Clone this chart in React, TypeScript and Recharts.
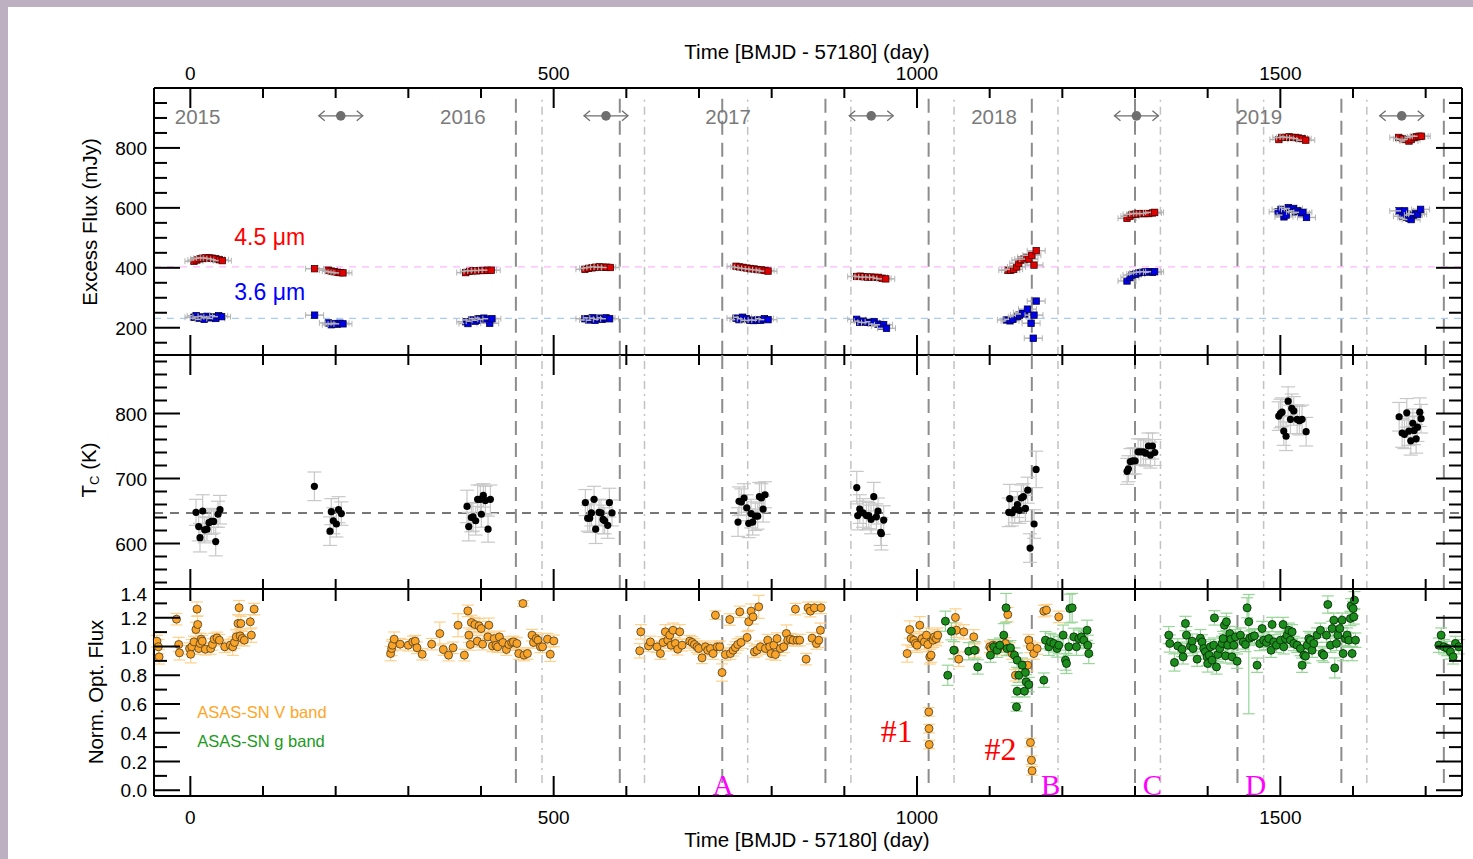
import React from 'react'
import { ScatterChart, Scatter, XAxis, YAxis, ReferenceLine, ErrorBar } from 'recharts'

// ---------- data ----------
const dayTicks = [0, 100, 200, 300, 400, 500, 600, 700, 800, 900, 1000, 1100, 1200, 1300, 1400, 1500, 1600, 1700]
const irTicks = [150, 200, 250, 300, 350, 400, 450, 500, 550, 600, 650, 700, 750, 800, 850, 900, 950]
const tempTicks = [540, 560, 580, 600, 620, 640, 660, 680, 700, 720, 740, 760, 780, 800, 820, 840, 860, 880]
const optTicks = [0, 0.1, 0.2, 0.3, 0.4, 0.5, 0.6, 0.7, 0.8, 0.9, 1.0, 1.1, 1.2, 1.3, 1.4]

const yearLabels = ['2015', '2016', '2017', '2018', '2019']
const yearDays = [10, 375, 740, 1106, 1471]
const arrowDays = [207, 572, 937, 1302, 1667]
const dashedDays = [448, 591, 732, 874, 1016, 1158, 1300, 1441, 1584, 1725]
const dotDashDays = [484, 625, 767, 909, 1051, 1194, 1335, 1477, 1619]
const epochLetters = ['A', 'B', 'C', 'D']
const epochDays = [733, 1184, 1324, 1466]
const dipLabels = ['#1', '#2']
const dipDays = [972, 1115]
const dipFlux = [0.336, 0.21]

// excess flux, mJy
const flux45Ref = 403
const flux36Ref = 231
const flux45: [number, number][] = [
  [5, 422], [9, 426], [13, 430], [17, 432], [21, 433], [26, 433], [30, 432], [35, 430], [40, 427], [44, 424],
  [171, 397],
  [190, 392], [194, 389], [198, 387], [202, 385], [206, 384], [210, 383],
  [379, 384], [384, 388], [389, 390], [394, 390], [399, 391], [404, 391], [409, 392], [414, 392],
  [543, 395], [548, 398], [553, 400], [558, 402], [563, 403], [568, 402], [573, 402], [578, 401],
  [751, 405], [756, 403], [761, 401], [766, 399], [771, 397], [776, 396], [781, 394], [786, 393], [791, 391], [795, 389],
  [917, 371], [922, 372], [927, 370], [932, 369], [937, 369], [942, 368], [947, 368], [952, 365], [957, 363],
  [1125, 392], [1129, 392], [1133, 395], [1137, 403], [1140, 415], [1143, 426], [1147, 429], [1151, 435], [1154, 429], [1158, 442], [1161, 409], [1164, 457],
  [1289, 565], [1293, 572], [1296, 578], [1301, 579], [1305, 581], [1310, 581], [1314, 581], [1319, 581], [1324, 583], [1327, 585],
  [1498, 828], [1502, 835], [1507, 835], [1512, 837], [1516, 835], [1521, 835], [1525, 833], [1530, 831], [1535, 826],
  [1663, 835], [1668, 831], [1672, 828], [1677, 823], [1680, 828], [1684, 835], [1687, 837], [1691, 839], [1694, 839],
]
const flux36: [number, number][] = [
  [5, 235], [8, 240], [12, 232], [16, 236], [19, 228], [23, 238], [27, 233], [31, 236], [35, 231], [39, 240], [43, 237],
  [171, 242],
  [190, 216], [194, 210], [198, 214], [202, 212], [206, 215], [210, 213],
  [379, 220], [382, 214], [387, 226], [392, 222], [396, 230], [400, 225], [404, 232], [408, 228], [412, 215], [415, 230],
  [543, 230], [548, 226], [553, 233], [557, 225], [562, 232], [567, 228], [572, 233], [577, 230],
  [751, 232], [755, 227], [760, 235], [765, 230], [770, 225], [775, 224], [780, 226], [785, 225], [790, 230], [795, 227],
  [917, 228], [921, 218], [926, 222], [931, 218], [936, 217], [941, 220], [946, 212], [950, 206], [954, 210], [958, 198],
  [1123, 226], [1128, 223], [1132, 228], [1138, 237], [1141, 242], [1145, 250], [1148, 246], [1152, 262], [1157, 215], [1161, 242], [1164, 289], [1160, 165],
  [1289, 356], [1293, 368], [1296, 376], [1301, 379], [1305, 383], [1310, 385], [1314, 386], [1319, 387], [1324, 385], [1327, 387],
  [1497, 587], [1501, 595], [1505, 570], [1508, 576], [1511, 601], [1514, 595], [1518, 598], [1521, 587], [1524, 590], [1528, 583], [1531, 585], [1536, 568],
  [1663, 590], [1668, 572], [1671, 590], [1674, 568], [1677, 565], [1680, 561], [1683, 576], [1686, 581], [1689, 579], [1693, 595],
]

// colour temperature, K  [day, T, err]
const tempRef = 647
const tempDust: [number, number, number][] = [
  [7.8, 648, 20], [11.5, 626, 22], [13.3, 609, 22], [17, 650, 25], [19.7, 621, 20], [22.9, 622, 18], [25.7, 632, 18], [28.9, 634, 20], [32.1, 634, 18], [34.9, 603, 22], [38.1, 645, 20], [40.8, 652, 22],
  [170.7, 688, 22],
  [192.2, 619, 22], [194, 649, 20], [196.8, 635, 20], [201, 630, 20], [204, 652, 20], [207.8, 646, 18],
  [380.8, 657, 25], [383.1, 626, 22], [386.7, 640, 22], [389, 641, 22], [392.7, 635, 22], [395.4, 668, 22], [399.1, 668, 22], [400.5, 645, 20], [403.2, 674, 18], [406, 666, 22], [409.7, 622, 20], [412.9, 668, 22],
  [543.6, 663, 20], [546.8, 639, 20], [549.6, 639, 22], [551.9, 647, 20], [555.6, 668, 20], [557.8, 622, 22], [562.4, 648, 20], [565.2, 647, 20], [568, 637, 22], [570.2, 635, 20], [574.4, 628, 20], [576.7, 663, 22], [580.3, 647, 20],
  [753.7, 633, 22], [755.1, 665, 22], [758.3, 664, 20], [762, 670, 22], [765.7, 655, 20], [768.4, 631, 22], [771.6, 646, 22], [773.9, 633, 20], [777.6, 642, 22], [780.8, 642, 20], [783.1, 672, 22], [785.9, 670, 22], [788.2, 653, 20], [790.9, 675, 20],
  [917.1, 686, 25], [918.4, 643, 22], [921.2, 653, 22], [925.8, 647, 22], [930.4, 643, 22], [933.6, 643, 20], [936.8, 637, 22], [940.5, 672, 22], [944.1, 641, 20], [946.4, 650, 20], [950.1, 617, 20], [951, 615, 25], [954.2, 636, 22],
  [1126.3, 648, 22], [1127.6, 669, 22], [1130.8, 647, 20], [1134.5, 652, 20], [1138.2, 660, 20], [1140.9, 651, 20], [1143.7, 670, 20], [1146.4, 672, 20], [1149.2, 654, 20], [1152.4, 682, 20], [1155.6, 593, 22], [1161.1, 630, 22], [1163.9, 714, 28],
  [1289.1, 711, 20], [1290.9, 715, 20], [1293.7, 726, 20], [1296.9, 727, 20], [1300.1, 727, 20], [1304.3, 741, 20], [1307.9, 741, 20], [1311.6, 741, 20], [1314.8, 739, 20], [1318.5, 750, 20], [1321.2, 736, 20], [1324, 750, 20], [1327.2, 740, 20],
  [1497.8, 796, 22], [1500.1, 800, 22], [1502.4, 802, 22], [1504.7, 773, 22], [1507.9, 765, 22], [1510.7, 819, 22], [1513.9, 791, 22], [1515.7, 808, 22], [1518.5, 804, 22], [1523.1, 791, 22], [1526.3, 789, 22], [1529.9, 791, 22], [1535.5, 772, 22],
  [1663.5, 795, 22], [1667.6, 770, 22], [1670.8, 768, 22], [1674, 801, 22], [1676.8, 773, 22], [1679.5, 758, 22], [1682.3, 785, 22], [1684.1, 774, 22], [1686.9, 761, 22], [1688.7, 779, 22], [1691.9, 802, 22], [1693.7, 792, 22],
]

// normalised optical flux  [day, flux, err]
const vBand: [number, number, number][] = [
  [-46, 1.037, 0.04], [-44, 0.998, 0.05], [-43, 0.928, 0.05], [-19, 1.19, 0.04], [-16, 1.014, 0.05], [-15, 0.956, 0.05], [-1, 0.986, 0.04], [0.5, 0.946, 0.06], [2, 0.998, 0.05], [5, 1.032, 0.04],
  [7.7, 1.118, 0.05], [9.2, 1.26, 0.05], [10.1, 1.153, 0.06], [11.6, 0.986, 0.04], [13.5, 1.021, 0.04], [14.9, 1.051, 0.04], [16.4, 1.037, 0.04], [20.7, 0.981, 0.04], [28, 0.986, 0.04], [30.4, 1.014, 0.04],
  [32.8, 1.051, 0.04], [36.7, 1.06, 0.04], [40, 1.044, 0.04], [47.3, 0.998, 0.04], [55, 1.009, 0.04], [58.4, 0.998, 0.06], [60.8, 1.028, 0.04], [63.2, 1.067, 0.05], [65.6, 1.16, 0.06], [67.1, 1.27, 0.05],
  [68.5, 1.074, 0.05], [69.5, 1.16, 0.05], [71.4, 1.056, 0.05], [74.3, 1.044, 0.04], [82.5, 1.172, 0.05], [84, 1.079, 0.05], [87.8, 1.26, 0.04],
  [275.6, 0.951, 0.05], [277.1, 0.986, 0.05], [278.1, 1.009, 0.04], [280.5, 1.051, 0.05], [288.7, 1.016, 0.04], [299.8, 1.009, 0.04], [306.1, 1.032, 0.04], [309.5, 1.037, 0.04], [311.9, 0.991, 0.04], [319.1, 0.946, 0.04],
  [332.1, 1.016, 0.04], [343.3, 1.09, 0.08], [348.1, 0.979, 0.04], [355.3, 0.94, 0.04], [361.6, 0.991, 0.04], [368.4, 1.148, 0.08], [377.1, 0.94, 0.04], [381.9, 1.248, 0.04], [383.3, 1.079, 0.05], [385.3, 1.014, 0.04],
  [386.7, 1.167, 0.05], [391.5, 1.153, 0.05], [394.9, 1.037, 0.04], [397.3, 1.144, 0.05], [400.2, 1.125, 0.05], [402.2, 1.016, 0.04], [409.4, 1.067, 0.04], [410.8, 1.148, 0.05], [415.7, 1.004, 0.04], [418.1, 1.055, 0.04],
  [420.5, 1.009, 0.04], [422.9, 0.998, 0.04], [425.3, 1.067, 0.04], [430.1, 1.028, 0.04], [434.9, 0.979, 0.04], [438.3, 1.014, 0.04], [442.2, 1.028, 0.04], [444.6, 1.032, 0.04], [449.4, 1.021, 0.04], [451.9, 0.951, 0.04],
  [457.7, 1.299, 0.02], [459.1, 0.94, 0.04], [463.9, 0.951, 0.04], [470.2, 1.079, 0.04], [472.2, 1.028, 0.04], [476, 1.055, 0.04], [478.4, 1.044, 0.04], [481.8, 0.998, 0.04], [484.7, 0.998, 0.04], [491.5, 1.051, 0.04],
  [495.3, 0.946, 0.05], [500.2, 1.039, 0.04],
  [618.4, 0.97, 0.05], [619.9, 1.102, 0.05], [630.5, 1.004, 0.04], [633.1, 1.032, 0.04], [642.3, 0.998, 0.04], [646.9, 0.951, 0.04], [650.5, 1.028, 0.04], [653.7, 1.102, 0.05], [657, 1.044, 0.04], [659.7, 1.079, 0.04],
  [661.5, 1.009, 0.04], [664.3, 1.113, 0.05], [667.5, 1.021, 0.04], [670.7, 0.981, 0.04], [673.5, 1.102, 0.05], [676.7, 1.009, 0.04], [687.2, 1.037, 0.04], [690.5, 1.028, 0.04], [693.7, 1.014, 0.04], [697.3, 0.998, 0.04],
  [699.6, 0.986, 0.04], [704.2, 0.921, 0.04], [708.8, 0.998, 0.04], [712, 0.974, 0.04], [715.7, 0.986, 0.04], [719.4, 0.951, 0.04], [722.6, 1.218, 0.03], [724.9, 0.998, 0.04], [728.5, 0.998, 0.04], [731.7, 0.819, 0.06],
  [736.3, 0.944, 0.04], [742.3, 1.188, 0.04], [743.2, 0.951, 0.04], [746.9, 0.974, 0.04], [750.1, 0.993, 0.04], [753.3, 1.014, 0.04], [756.1, 1.241, 0.04], [757.9, 1.028, 0.04], [766.2, 1.063, 0.04], [768.4, 1.172, 0.06],
  [771.7, 1.246, 0.05], [774.4, 1.206, 0.05], [776.2, 0.963, 0.04], [779.9, 0.974, 0.04], [782.2, 1.276, 0.08], [784.5, 0.998, 0.04], [791.4, 0.986, 0.04], [794.6, 1.044, 0.04], [797.3, 0.998, 0.04], [799.2, 0.951, 0.04],
  [802.9, 1.009, 0.04], [805.2, 0.944, 0.04], [807.4, 1.055, 0.04], [812, 0.986, 0.05], [816.6, 0.998, 0.04], [820.3, 1.09, 0.06], [822.1, 1.044, 0.04], [825.8, 1.051, 0.04], [829.5, 1.044, 0.04], [832.7, 1.26, 0.04],
  [835, 1.044, 0.04], [838.6, 1.044, 0.04], [847.4, 0.912, 0.04], [850.1, 1.269, 0.04], [853.3, 1.246, 0.04], [855.6, 1.058, 0.04], [858.8, 1.269, 0.04], [861.6, 1.021, 0.04], [864.8, 1.044, 0.05], [867.1, 1.113, 0.05],
  [868, 1.269, 0.04],
  [986.4, 0.951, 0.06], [990, 1.118, 0.06], [991.9, 1.055, 0.05], [995.6, 1.044, 0.05], [997.8, 1.021, 0.05], [1000.1, 1.009, 0.05], [1003.8, 1.148, 0.06], [1007, 1.055, 0.05], [1010.2, 1.032, 0.05], [1013, 1.079, 0.05],
  [1014.8, 1.014, 0.05], [1016.2, 0.545, 0.03], [1016.5, 0.429, 0.03], [1016.8, 0.318, 0.03], [1017.6, 0.928, 0.05], [1019.4, 0.94, 0.05], [1022.2, 1.044, 0.05], [1024, 1.067, 0.05], [1026.7, 1.055, 0.05], [1028.6, 1.079, 0.05],
  [1051.5, 0.974, 0.06], [1052.9, 1.202, 0.06], [1054.3, 1.113, 0.05], [1057.5, 0.912, 0.05], [1064.4, 1.102, 0.05], [1078.1, 1.067, 0.05], [1080.4, 0.974, 0.05], [1100.2, 0.998, 0.04], [1102, 0.986, 0.04], [1104.7, 1.009, 0.04],
  [1108, 1.004, 0.04], [1111.2, 0.981, 0.04], [1114.8, 1.009, 0.04], [1118.5, 1.009, 0.04], [1121.7, 1.021, 0.04], [1124.9, 1.222, 0.05], [1127.7, 0.986, 0.04], [1130.9, 0.951, 0.04], [1135.5, 0.8, 0.04], [1147, 0.87, 0.04],
  [1152.4, 0.87, 0.04], [1153.8, 1.044, 0.04], [1156.1, 0.998, 0.04], [1156.1, 0.332, 0.03], [1157.5, 0.209, 0.03], [1158.4, 0.135, 0.03], [1160.7, 0.951, 0.04], [1165.3, 0.986, 0.04], [1174.5, 1.246, 0.04], [1178.2, 1.253, 0.04],
  [1195.1, 1.206, 0.04],
]
const gBand: [number, number, number | [number, number]][] = [
  [1039.1, 1.176, 0.07], [1042.3, 0.8, 0.07], [1047.4, 1.106, 0.06], [1050.6, 0.974, 0.06], [1071.2, 0.967, 0.06], [1079, 0.974, 0.06], [1083.6, 0.858, 0.05], [1101.1, 0.94, 0.05], [1105.7, 0.998, 0.05], [1110.2, 0.974, 0.05],
  [1113.9, 1.009, 0.05], [1119.4, 1.079, 0.08], [1122.6, 1.269, 0.1], [1124, 0.986, 0.05], [1128.6, 0.991, 0.05], [1134.1, 0.94, 0.05], [1137.8, 0.905, 0.05], [1140.1, 0.8, 0.05], [1144.7, 0.87, 0.05], [1149.2, 0.819, 0.05],
  [1150.2, 0.754, 0.05], [1137.8, 0.689, 0.04], [1147.9, 0.689, 0.04], [1136.9, 0.58, 0.03], [1153.8, 0.735, 0.05], [1174.5, 0.766, 0.05], [1176.8, 1.044, 0.06], [1181.4, 0.998, 0.06], [1183.7, 1.032, 0.06], [1188.2, 1.021, 0.06],
  [1192.8, 0.986, 0.06], [1195.1, 1.009, 0.06], [1201.1, 1.079, 0.07], [1204.3, 0.905, 0.07], [1205.7, 0.882, 0.07], [1208.9, 0.998, 0.06], [1210.3, 1.264, 0.1], [1213.5, 1.269, 0.1], [1215.8, 1.067, 0.06], [1219.4, 0.998, 0.06],
  [1222.6, 1.055, 0.06], [1226.3, 1.067, 0.06], [1229.5, 1.044, 0.06], [1234.1, 1.113, 0.07], [1235, 1.009, 0.07], [1236.4, 0.951, 0.07],
  [1346.5, 1.079, 0.06], [1347.8, 1.021, 0.06], [1354.3, 0.889, 0.06], [1358.8, 1.004, 0.05], [1364.8, 0.981, 0.05], [1366.2, 0.928, 0.05], [1369.4, 1.16, 0.05], [1370.8, 1.079, 0.06], [1376.3, 1.004, 0.05], [1378.6, 1.037, 0.05],
  [1379.9, 0.986, 0.05], [1385.5, 0.912, 0.05], [1390, 1.058, 0.06], [1392.3, 1.032, 0.05], [1394.6, 0.986, 0.05], [1396.9, 0.963, 0.05], [1399.2, 0.928, 0.06], [1400.1, 0.882, 0.06], [1402, 0.94, 0.05], [1403.8, 0.998, 0.05],
  [1406.1, 0.905, 0.05], [1408.4, 1.009, 0.05], [1409.3, 1.199, 0.05], [1412.1, 0.858, 0.05], [1413.9, 0.944, 0.05], [1416.6, 0.986, 0.05], [1419.9, 1.021, 0.05], [1421.2, 1.055, 0.05], [1423.1, 1.148, 0.06], [1425.8, 1.172, 0.06],
  [1424.5, 0.935, 0.05], [1427.7, 1.009, 0.05], [1430.4, 1.09, 0.05], [1432.2, 1.051, 0.05], [1433.6, 0.928, 0.05], [1435.9, 1.009, 0.05], [1438.2, 1.067, 0.05], [1440.5, 0.898, 0.05], [1445.1, 1.079, 0.05], [1448.8, 1.032, 0.05],
  [1452, 1.014, 0.05], [1454.3, 1.269, 0.07], [1456.6, 1.172, [0.64, 0.19]], [1457.9, 1.058, 0.05], [1461.2, 1.067, 0.05], [1464.4, 1.074, 0.05], [1468, 0.87, 0.05], [1471.7, 1.021, 0.05], [1474.9, 1.125, 0.05], [1477.2, 1.044, 0.05],
  [1480.9, 1.028, 0.05], [1484.1, 1.055, 0.05], [1487.3, 0.974, 0.05], [1488.7, 1.153, 0.05], [1491, 1.032, 0.05], [1494.6, 1.009, 0.05], [1500.2, 1.044, 0.05], [1503.8, 1.153, 0.05], [1504.7, 0.998, 0.05], [1507, 1.055, 0.05],
  [1509.3, 1.079, 0.05], [1511.6, 1.113, 0.05], [1513.9, 1.044, 0.05], [1516.2, 1.102, 0.05], [1518.5, 1.021, 0.05], [1523.1, 1.009, 0.05], [1527.7, 0.986, 0.05], [1530, 0.87, 0.05], [1532.3, 0.94, 0.05], [1534.6, 0.933, 0.05],
  [1536.9, 1.009, 0.05], [1539.2, 1.055, 0.05], [1541.4, 1.044, 0.05], [1543.7, 0.974, 0.05], [1546, 1.021, 0.05], [1550.6, 1.079, 0.05], [1555.2, 1.113, 0.05], [1557.5, 0.951, 0.05], [1559.8, 0.94, 0.05], [1563.5, 1.079, 0.05],
  [1565.3, 1.292, 0.06], [1569, 1.009, 0.05], [1571.3, 1.125, 0.05], [1573.6, 1.183, 0.05], [1574.9, 0.851, 0.07], [1577.2, 1.021, 0.05], [1579.1, 1.079, 0.05], [1581.8, 1.125, 0.05], [1585, 1.183, 0.05], [1586.4, 0.951, 0.05],
  [1589.6, 1.055, 0.05], [1591.9, 1.079, 0.05], [1594.2, 1.044, 0.05], [1596.5, 1.195, 0.05], [1597.4, 1.283, 0.05], [1598.8, 0.951, 0.05], [1600.2, 1.264, 0.05], [1601.1, 1.206, 0.05], [1602, 1.322, 0.06], [1603.4, 1.044, 0.05],
  [1718.1, 1.009, 0.05], [1721.3, 1.079, 0.05], [1725, 0.998, 0.05], [1729.6, 0.986, 0.05], [1734.1, 0.963, 0.05], [1737.8, 0.928, 0.05], [1741, 1.021, 0.05], [1745.6, 0.998, 0.05],
]

// ---------- layout ----------
const W = 1473
const H = 859
const FONT = '"Liberation Sans", Arial, Helvetica, sans-serif'
const SERIF = '"Liberation Serif", "Times New Roman", serif'
// bottom/left/right axes get 1px each (a 0px axis is not drawn); the margins give that pixel back
const margin = (top: number, bottom: number) => ({ top, bottom: H - bottom - 1, left: 153, right: 10 })
const frame = { stroke: '#000', strokeWidth: 2 }
const dayDomain: [number, number] = [-50, 1750]

// the bottom axis draws the ticks of both the bottom and the top edge of a panel
function xTick(plotH: number, topLen: [number, number], botLen: [number, number], labelTop: boolean, labelBottom: boolean) {
  return (p: any) => {
    const v = p.payload.value
    const major = v % 500 === 0
    const yb = p.y
    const yt = p.y - plotH
    return (
      <g>
        <line x1={p.x} x2={p.x} y1={yb} y2={yb - (major ? botLen[0] : botLen[1])} stroke="#000" strokeWidth={2} />
        <line x1={p.x} x2={p.x} y1={yt} y2={yt + (major ? topLen[0] : topLen[1])} stroke="#000" strokeWidth={2} />
        {labelTop && major && (
          <text x={p.x} y={yt - 8} textAnchor="middle" fontSize={19} fontFamily={FONT} fill="#000">
            {v}
          </text>
        )}
        {labelBottom && major && (
          <text x={p.x} y={yb + 28} textAnchor="middle" fontSize={19} fontFamily={FONT} fill="#000">
            {v}
          </text>
        )}
      </g>
    )
  }
}

function yTick(side: 'left' | 'right', isMajor: (v: number) => boolean, fmt: ((v: number) => string) | null, topVal: number) {
  return (p: any) => {
    const v = p.payload.value
    const major = isMajor(v)
    const len = major ? 26 : 13
    const d = side === 'left' ? 1 : -1
    return (
      <g>
        <line x1={p.x} x2={p.x + d * len} y1={p.y} y2={p.y} stroke="#000" strokeWidth={2} />
        {fmt && major && (
          <text x={p.x - 7} y={p.y + (v === topVal ? 12 : 7)} textAnchor="end" fontSize={19} fontFamily={FONT} fill="#000">
            {fmt(v)}
          </text>
        )}
      </g>
    )
  }
}

const squareShape = (fill: string, edge: string) => (p: any) => (
  <g>
    <line x1={p.cx - 9} x2={p.cx + 9} y1={p.cy} y2={p.cy} stroke="#b4b4b4" strokeWidth={1.5} />
    <line x1={p.cx - 9} x2={p.cx - 9} y1={p.cy - 3} y2={p.cy + 3} stroke="#b4b4b4" strokeWidth={1} />
    <line x1={p.cx + 9} x2={p.cx + 9} y1={p.cy - 3} y2={p.cy + 3} stroke="#b4b4b4" strokeWidth={1} />
    <rect x={p.cx - 3.2} y={p.cy - 3.2} width={6.4} height={6.4} fill={fill} stroke={edge} strokeWidth={0.8} />
  </g>
)

const dotShape = (fill: string, edge: string, r: number) => (p: any) => (
  <circle cx={p.cx} cy={p.cy} r={r} fill={fill} stroke={edge} strokeWidth={edge === 'none' ? 0 : 0.9} />
)

const textShape = (color: string, size: number, family: string, anchor: 'start' | 'middle' | 'end') => (p: any) => (
  <text x={p.cx} y={p.cy} fill={color} fontSize={size} fontFamily={family} textAnchor={anchor}>
    {p.payload.t}
  </text>
)

const arrowShape = (p: any) => {
  const { cx, cy } = p
  const c = '#6e6e6e'
  return (
    <g stroke={c} strokeWidth={1.3} fill="none">
      <line x1={cx - 22} x2={cx + 22} y1={cy} y2={cy} />
      <polyline points={`${cx - 16},${cy - 5} ${cx - 22},${cy} ${cx - 16},${cy + 5}`} />
      <polyline points={`${cx + 16},${cy - 5} ${cx + 22},${cy} ${cx + 16},${cy + 5}`} />
      <circle cx={cx} cy={cy} r={4.8} fill={c} stroke="none" />
    </g>
  )
}

function epochLines(y0: number, y1: number) {
  return [
    ...dashedDays.map((d) => (
      <ReferenceLine key={`d${d}`} xAxisId="b" yAxisId="l" segment={[{ x: d, y: y0 }, { x: d, y: y1 }]} stroke="#8c8c8c" strokeWidth={2} strokeDasharray="14 8" />
    )),
    ...dotDashDays.map((d) => (
      <ReferenceLine key={`dd${d}`} xAxisId="b" yAxisId="l" segment={[{ x: d, y: y0 }, { x: d, y: y1 }]} stroke="#c2c2c2" strokeWidth={1.5} strokeDasharray="8 5 2 5" />
    )),
  ]
}

function axes(
  yDomain: [number, number],
  yTicks: number[],
  isMajor: (v: number) => boolean,
  fmt: (v: number) => string,
  plotH: number,
  topLen: [number, number],
  botLen: [number, number],
  labelTop: boolean,
  labelBottom: boolean,
) {
  return [
    <XAxis key="xb" xAxisId="b" type="number" dataKey="x" domain={dayDomain} ticks={dayTicks} allowDataOverflow height={1} tickSize={0} tickMargin={0} interval={0} tickLine={false} axisLine={frame} tick={xTick(plotH, topLen, botLen, labelTop, labelBottom)} />,
    <YAxis key="yl" yAxisId="l" type="number" dataKey="y" domain={yDomain} ticks={yTicks} allowDataOverflow width={1} tickSize={0} tickMargin={0} interval={0} tickLine={false} axisLine={frame} tick={yTick('left', isMajor, fmt, yDomain[1])} />,
    <YAxis key="yr" yAxisId="r" orientation="right" type="number" domain={yDomain} ticks={yTicks} allowDataOverflow width={1} tickSize={0} tickMargin={0} interval={0} tickLine={false} axisLine={frame} tick={yTick('right', isMajor, null, yDomain[1])} />,
    <ReferenceLine key="top" xAxisId="b" yAxisId="l" y={yDomain[1]} stroke="#000" strokeWidth={2} />,
  ]
}

const abs: React.CSSProperties = { position: 'absolute', left: 0, top: 0 }

function Title({ x, y, rotate, children }: { x: number; y: number; rotate?: boolean; children: React.ReactNode }) {
  return (
    <div
      style={{
        position: 'absolute', left: x, top: y, fontSize: 20.5, fontFamily: FONT, color: '#000', whiteSpace: 'nowrap', lineHeight: 1,
        transform: `translate(-50%, -50%)${rotate ? ' rotate(-90deg)' : ''}`,
      }}
    >
      {children}
    </div>
  )
}

export default function App() {
  const irRed = flux45.map(([x, y]) => ({ x, y }))
  const irBlue = flux36.map(([x, y]) => ({ x, y }))
  const temp = tempDust.map(([x, y, e]) => ({ x, y, e }))
  const vData = vBand.map(([x, y, e]) => ({ x, y, e }))
  const gData = gBand.map(([x, y, e]) => ({ x, y, e }))

  return (
    <div style={{ position: 'absolute', left: 0, top: 0, width: W, height: H, background: '#bdb1c1', overflow: 'hidden' }}>
      <div style={{ position: 'absolute', left: 8, top: 7, right: 0, bottom: 0, background: '#fff' }} />

      {/* panel 1: excess flux */}
      <div style={abs}>
        <ScatterChart width={W} height={H} margin={margin(88, 355)}>
          {axes([109, 1000], irTicks, (v) => v % 200 === 0, (v) => String(v), 267, [20, 10], [20, 10], true, false)}
          {epochLines(110, 970)}
          <ReferenceLine xAxisId="b" yAxisId="l" y={flux45Ref} stroke="#ffb8ff" strokeWidth={1.3} strokeDasharray="7 6" />
          <ReferenceLine xAxisId="b" yAxisId="l" y={flux36Ref} stroke="#a9cdfb" strokeWidth={1.3} strokeDasharray="7 6" />
          <Scatter xAxisId="b" yAxisId="l" data={irRed} shape={squareShape('#e00000', '#4a0000')} isAnimationActive={false} />
          <Scatter xAxisId="b" yAxisId="l" data={irBlue} shape={squareShape('#0000e6', '#00004a')} isAnimationActive={false} />
          <Scatter xAxisId="b" yAxisId="l" data={yearLabels.map((t, i) => ({ x: yearDays[i], y: 881, t }))} shape={textShape('#7a7a7a', 20.5, FONT, 'middle')} isAnimationActive={false} />
          <Scatter xAxisId="b" yAxisId="l" data={arrowDays.map((x) => ({ x, y: 907 }))} shape={arrowShape} isAnimationActive={false} />
          <Scatter xAxisId="b" yAxisId="l" data={[{ x: 60.5, y: 476, t: '4.5 μm' }]} shape={textShape('#ff0000', 23, FONT, 'start')} isAnimationActive={false} />
          <Scatter xAxisId="b" yAxisId="l" data={[{ x: 60.5, y: 293, t: '3.6 μm' }]} shape={textShape('#0000ff', 23, FONT, 'start')} isAnimationActive={false} />
        </ScatterChart>
      </div>

      {/* panel 2: colour temperature */}
      <div style={abs}>
        <ScatterChart width={W} height={H} margin={margin(355, 589)}>
          {axes([530, 890], tempTicks, (v) => v % 100 === 0, (v) => String(v), 234, [20, 10], [20, 10], false, false)}
          {epochLines(530, 890)}
          <ReferenceLine xAxisId="b" yAxisId="l" y={tempRef} stroke="#777" strokeWidth={2} strokeDasharray="9 7" />
          <Scatter xAxisId="b" yAxisId="l" data={temp} shape={dotShape('#000', 'none', 3.6)} isAnimationActive={false}>
            <ErrorBar dataKey="e" direction="y" width={7} stroke="#c8c8c8" strokeWidth={1.2} />
          </Scatter>
        </ScatterChart>
      </div>

      {/* panel 3: optical flux */}
      <div style={abs}>
        <ScatterChart width={W} height={H} margin={margin(589, 796)}>
          {axes([-0.04, 1.4], optTicks, (v) => Math.round(v * 10) % 2 === 0, (v) => v.toFixed(1), 207, [12, 12], [20, 10], false, true)}
          {epochLines(0.05, 1.24)}
          <Scatter xAxisId="b" yAxisId="l" data={vData} shape={dotShape('#f9a428', '#5e4620', 4)} isAnimationActive={false}>
            <ErrorBar dataKey="e" direction="y" width={6} stroke="#ffd08a" strokeWidth={1.2} />
          </Scatter>
          <Scatter xAxisId="b" yAxisId="l" data={gData} shape={dotShape('#1c8c1c', '#083008', 4)} isAnimationActive={false}>
            <ErrorBar dataKey="e" direction="y" width={6} stroke="#98d598" strokeWidth={1.2} />
          </Scatter>
          <Scatter xAxisId="b" yAxisId="l" data={epochLetters.map((t, i) => ({ x: epochDays[i], y: -0.033, t }))} shape={textShape('#ff00ff', 29, SERIF, 'middle')} isAnimationActive={false} />
          <Scatter xAxisId="b" yAxisId="l" data={dipLabels.map((t, i) => ({ x: dipDays[i], y: dipFlux[i], t }))} shape={textShape('#ff0000', 32, SERIF, 'middle')} isAnimationActive={false} />
          <Scatter xAxisId="b" yAxisId="l" data={[{ x: 9.6, y: 0.503, t: 'ASAS-SN V band' }]} shape={textShape('#ffa526', 16.5, FONT, 'start')} isAnimationActive={false} />
          <Scatter xAxisId="b" yAxisId="l" data={[{ x: 9.6, y: 0.301, t: 'ASAS-SN g band' }]} shape={textShape('#1c9a1c', 16.5, FONT, 'start')} isAnimationActive={false} />
        </ScatterChart>
      </div>

      <Title x={807} y={52}>Time [BMJD - 57180] (day)</Title>
      <Title x={807} y={840}>Time [BMJD - 57180] (day)</Title>
      <Title x={90} y={222} rotate>Excess Flux (mJy)</Title>
      <Title x={90} y={470} rotate>
        T<sub style={{ fontSize: 13, verticalAlign: '-3px' }}>C</sub> (K)
      </Title>
      <Title x={96} y={692} rotate>Norm. Opt. Flux</Title>
    </div>
  )
}
